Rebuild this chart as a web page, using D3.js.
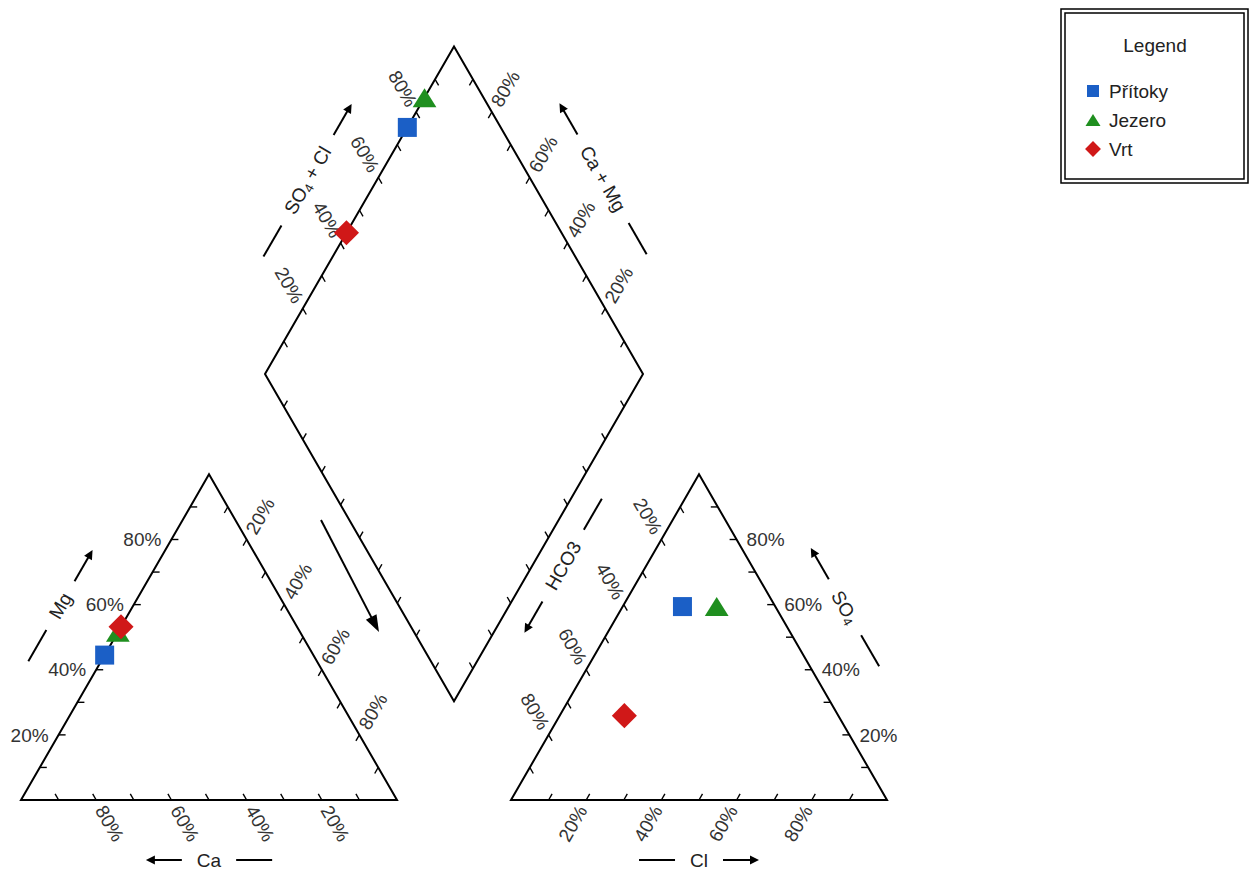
<!DOCTYPE html>
<html>
<head>
<meta charset="utf-8">
<script src="https://cdn.jsdelivr.net/npm/d3@7"></script>
<style>
  body { margin: 0; background: #fff; }
  text { font-family: Arial, "Liberation Sans", sans-serif; }
</style>
</head>
<body>
<svg id="chart" width="1254" height="872"></svg>
<script>
// ---- Sample composition (meq %) ----
const samples   = ["Přítoky", "Jezero", "Vrt"];
const caPct     = [55.5, 48.5, 46.8];
const mgPct     = [44.5, 51.5, 53.2];
const naKPct    = [0, 0, 0];
const hco3Pct   = [24.7, 15.6, 56.9];
const so4Pct    = [59.4, 59.4, 25.9];
const clPct     = [15.9, 25.0, 17.2];
const seriesColors = ["#1b5fc6", "#1f8f1f", "#d01818"];
const seriesShapes = ["square", "triangle", "diamond"];

// ---- Axis ticks ----
const tickValues  = [10, 20, 30, 40, 50, 60, 70, 80, 90];
const labelValues = [20, 40, 60, 80];
const tickLabels  = ["20%", "40%", "60%", "80%"];

// ---- Layout ----
const SIDE = 376, GAP = 114, DIAMOND_SIDE = 378;
const ORIGIN = { x: 21, y: 800 };
const R3 = Math.sqrt(3) / 2;

const svg = d3.select("#chart");
const sideScale    = d3.scaleLinear().domain([0, 100]).range([0, SIDE]);
const diamondScale = d3.scaleLinear().domain([0, 100]).range([0, DIAMOND_SIDE]);

const add = (p, v, k = 1) => ({ x: p.x + v.x * k, y: p.y + v.y * k });
const lerp = (a, b, t) => ({ x: a.x + (b.x - a.x) * t, y: a.y + (b.y - a.y) * t });
const U   = { x: 1, y: 0 };
const UP60 = { x: 0.5, y: -R3 };   // up-right
const DN60 = { x: 0.5, y: R3 };    // down-right

// cation triangle
const cBL = { x: ORIGIN.x, y: ORIGIN.y };
const cBR = add(cBL, U, SIDE);
const cAp = add(cBL, UP60, SIDE);
// anion triangle
const aBL = add(cBR, U, GAP);
const aBR = add(aBL, U, SIDE);
const aAp = add(aBL, UP60, SIDE);
// diamond
const dB = { x: (cBR.x + aBL.x) / 2, y: ORIGIN.y - (GAP / 2) * Math.sqrt(3) };
const dL = add(dB, { x: -0.5, y: -R3 }, DIAMOND_SIDE);
const dR = add(dB, { x: 0.5, y: -R3 }, DIAMOND_SIDE);
const dT = add(dL, UP60, DIAMOND_SIDE);

// data → pixel positions
const cationPos = i => add(add(cBL, U, sideScale(naKPct[i])), UP60, sideScale(mgPct[i]));
const anionPos  = i => add(add(aBL, U, sideScale(clPct[i])), UP60, sideScale(so4Pct[i]));
const diamondPos = i => add(add(dL, UP60, diamondScale(so4Pct[i] + clPct[i])), DN60, diamondScale(naKPct[i]));

// ---- Outlines ----
const line = d3.line().x(d => d.x).y(d => d.y);
const frame = svg.append("g").attr("fill", "none").attr("stroke", "#000").attr("stroke-width", 2).attr("stroke-linejoin", "miter");
frame.append("path").attr("d", line([cBL, cBR, cAp]) + "Z");
frame.append("path").attr("d", line([aBL, aBR, aAp]) + "Z");
frame.append("path").attr("d", line([dL, dT, dR, dB]) + "Z");

// ---- Ticks and tick labels ----
const tickG = svg.append("g");
function edgeAxis(start, end, inward, labelDir, rot, anchor, withLabels, gap = 8) {
  tickValues.forEach(v => {
    const p = lerp(start, end, v / 100);
    const q = add(p, inward, 7);
    tickG.append("line").attr("x1", p.x).attr("y1", p.y).attr("x2", q.x).attr("y2", q.y)
      .attr("stroke", "#000").attr("stroke-width", 1.4);
  });
  if (!withLabels) return;
  labelValues.forEach((v, k) => {
    const p = add(lerp(start, end, v / 100), labelDir, gap);
    tickG.append("text")
      .attr("transform", `translate(${p.x},${p.y}) rotate(${rot})`)
      .attr("text-anchor", anchor).attr("dy", "0.35em")
      .attr("font-size", 19).attr("fill", "#333")
      .text(tickLabels[k]);
  });
}
// cation triangle: Mg (left), Ca (bottom), Na+K (right)
edgeAxis(cBL, cAp, { x: 1, y: 0 }, { x: -1, y: 0 }, 0, "end", true, 10);
edgeAxis(cBR, cBL, { x: -0.5, y: -R3 }, { x: 0.5, y: R3 }, 60, "start", true);
edgeAxis(cAp, cBR, { x: -0.5, y: R3 }, { x: 0.5, y: -R3 }, -60, "start", true);
// anion triangle: HCO3 (left), Cl (bottom), SO4 (right)
edgeAxis(aAp, aBL, { x: 0.5, y: R3 }, { x: -0.5, y: -R3 }, 60, "end", true);
edgeAxis(aBL, aBR, { x: 0.5, y: -R3 }, { x: -0.5, y: R3 }, -60, "end", true);
edgeAxis(aBR, aAp, { x: -1, y: 0 }, { x: 1, y: 0 }, 0, "start", true, 10);
// diamond
edgeAxis(dL, dT, { x: 0.5, y: R3 }, { x: -0.5, y: -R3 }, 60, "end", true);
edgeAxis(dR, dT, { x: -0.5, y: R3 }, { x: 0.5, y: -R3 }, -60, "start", true);
edgeAxis(dL, dB, { x: 0.5, y: -R3 }, null, 0, "start", false);
edgeAxis(dB, dR, { x: -0.5, y: -R3 }, null, 0, "start", false);

// ---- Axis titles with direction arrows ----
const titleG = svg.append("g");
function arrowHead(g, tip, dir, len, half) {
  const base = add(tip, dir, -len);
  const perp = { x: -dir.y, y: dir.x };
  g.append("path")
    .attr("d", line([tip, add(base, perp, half), add(base, perp, -half)]) + "Z")
    .attr("fill", "#000");
}
function axisTitle(center, rot, parts, arrowSign) {
  const t = titleG.append("text")
    .attr("transform", `translate(${center.x},${center.y}) rotate(${rot})`)
    .attr("text-anchor", "middle").attr("dy", "0.35em")
    .attr("font-size", 19).attr("fill", "#222");
  parts.forEach(pt => {
    const ts = t.append("tspan").text(pt.text);
    if (pt.sub) ts.attr("font-size", 13).attr("dy", 3);
    if (pt.after) ts.attr("dy", -3);
  });
  const half = t.node().getComputedTextLength() / 2;
  const a = rot * Math.PI / 180;
  const d = { x: Math.cos(a), y: Math.sin(a) };
  const g0 = half + 15, g1 = half + 51;
  [1, -1].forEach(sgn => {
    const p0 = add(center, d, sgn * g0), p1 = add(center, d, sgn * g1);
    const isArrow = sgn === arrowSign;
    const end = isArrow ? add(center, d, sgn * (g1 - 6)) : p1;
    titleG.append("line").attr("x1", p0.x).attr("y1", p0.y).attr("x2", end.x).attr("y2", end.y)
      .attr("stroke", "#000").attr("stroke-width", 2);
    if (isArrow) arrowHead(titleG, p1, { x: d.x * sgn, y: d.y * sgn }, 9, 4.5);
  });
}
const mid = (a, b) => lerp(a, b, 0.5);
axisTitle(add(mid(cBL, cAp), { x: -R3, y: -0.5 }, 63), -60, [{ text: "Mg" }], 1);
axisTitle(add(mid(cBL, cBR), { x: 0, y: 1 }, 60), 0, [{ text: "Ca" }], -1);
axisTitle(add(mid(aBL, aBR), { x: 0, y: 1 }, 60), 0, [{ text: "Cl" }], 1);
axisTitle(add(mid(aBR, aAp), { x: R3, y: -0.5 }, 60), 60, [{ text: "SO" }, { text: "4", sub: true }], -1);
axisTitle(add(add(mid(aBL, aAp), { x: -R3, y: -0.5 }, 72), UP60, 41), -60, [{ text: "HCO3" }], -1);
axisTitle(add(mid(dL, dT), { x: -R3, y: -0.5 }, 60), -60,
  [{ text: "SO" }, { text: "4", sub: true }, { text: " + Cl", after: true }], 1);
axisTitle(add(mid(dT, dR), { x: R3, y: -0.5 }, 63), 60, [{ text: "Ca + Mg" }], -1);

// projection arrow beside the diamond
const bigStart = { x: 321, y: 520 }, bigEnd = { x: 379, y: 632 };
{
  const L = Math.hypot(bigEnd.x - bigStart.x, bigEnd.y - bigStart.y);
  const d = { x: (bigEnd.x - bigStart.x) / L, y: (bigEnd.y - bigStart.y) / L };
  const e = add(bigEnd, d, -12);
  titleG.append("line").attr("x1", bigStart.x).attr("y1", bigStart.y).attr("x2", e.x).attr("y2", e.y)
    .attr("stroke", "#000").attr("stroke-width", 2);
  arrowHead(titleG, bigEnd, d, 17, 6);
}

// ---- Sample markers ----
function shapePath(shape, s) {
  if (shape === "square") return `M${-s / 2},${-s / 2}H${s / 2}V${s / 2}H${-s / 2}Z`;
  if (shape === "triangle") { const w = s * 1.25, h = s; return `M0,${-h / 2}L${w / 2},${h / 2}L${-w / 2},${h / 2}Z`; }
  return `M0,${-s * 0.66}L${s * 0.66},0L0,${s * 0.66}L${-s * 0.66},0Z`;
}
const markerSize = { square: 19, triangle: 19, diamond: 19 };
const ptsG = svg.append("g");
samples.forEach((name, i) => {
  [cationPos(i), anionPos(i), diamondPos(i)].forEach(p => {
    ptsG.append("path")
      .attr("transform", `translate(${p.x},${p.y})`)
      .attr("d", shapePath(seriesShapes[i], markerSize[seriesShapes[i]]))
      .attr("fill", seriesColors[i]);
  });
});

// ---- Legend ----
const lg = svg.append("g");
lg.append("rect").attr("x", 1061).attr("y", 9).attr("width", 187).attr("height", 174)
  .attr("fill", "#fff").attr("stroke", "#000").attr("stroke-width", 1.5);
lg.append("rect").attr("x", 1065).attr("y", 13).attr("width", 179).attr("height", 166)
  .attr("fill", "none").attr("stroke", "#000").attr("stroke-width", 1.5);
lg.append("text").attr("x", 1155).attr("y", 45).attr("dy", "0.35em").attr("text-anchor", "middle")
  .attr("font-size", 19).attr("fill", "#222").text("Legend");
const legendRows = [91, 120, 149];
samples.forEach((name, i) => {
  lg.append("path").attr("transform", `translate(1093,${legendRows[i]})`)
    .attr("d", shapePath(seriesShapes[i], 12)).attr("fill", seriesColors[i]);
  lg.append("text").attr("x", 1109).attr("y", legendRows[i]).attr("dy", "0.35em")
    .attr("font-size", 19).attr("fill", "#222").text(name);
});
</script>
</body>
</html>
